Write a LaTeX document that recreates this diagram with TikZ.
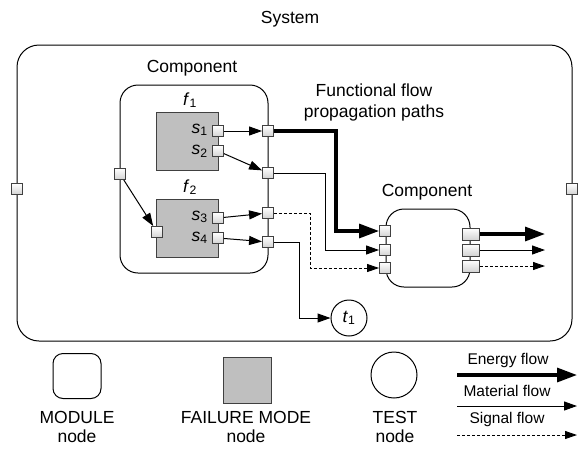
\documentclass[tikz,border=0pt]{standalone}
\usepackage{fontspec}
\setmainfont{Liberation Sans}
\usetikzlibrary{arrows.meta}

\begin{document}
\begin{tikzpicture}
[x=1pt, y=-1pt, font=\fontsize{17.5}{21}\selectfont,
modulenode/.style={rectangle, rounded corners=18pt, draw=black, line width=1pt},
failnode/.style={rectangle, draw=black!75, line width=1pt, fill=gray!50, minimum width=62pt, minimum height=58pt},
portnode/.style={rectangle, draw=black!75, line width=0.9pt, top color=white, bottom color=gray!35, inner sep=0pt, minimum size=11pt},
widenode/.style={portnode, minimum width=17pt, minimum height=12pt},
testnode/.style={circle, draw=black, line width=1pt, minimum size=36pt, inner sep=0pt},
connect/.style={-{Triangle[length=13pt,width=9pt]}, line width=1pt},
energy/.style={-{Triangle[length=20pt,width=14pt]}, line width=3.2pt},
material/.style={-{Triangle[length=13pt,width=9pt]}, line width=1pt},
signal/.style={-{Triangle[length=12pt,width=8pt]}, line width=0.9pt, dash pattern=on 3pt off 2pt},
legendtext/.style={font=\fontsize{15.5}{18}\selectfont}]
\useasboundingbox (0,0) rectangle (579,448);
% system and components
\node (systemlabel) at (290,19) {System};
\node[modulenode, rounded corners=22pt, minimum width=555pt, minimum height=296pt] (system) at (294.5,193) {};
\node (compAlabel) at (192,68) {Component};
\node[modulenode, minimum width=148pt, minimum height=188pt] (compA) at (194,179) {};
\node (compBlabel) at (427,192) {Component};
\node[modulenode, minimum width=84pt, minimum height=78pt] (compB) at (428,248) {};
\node (flowlabel) at (374,102) [align=center] {Functional flow\\propagation paths};
% failure modes
\node (f1) at (190,100) {\textit{f}\textsubscript{1}};
\node[failnode] (fail1) at (187,141) {};
\node (f2) at (190,187) {\textit{f}\textsubscript{2}};
\node[failnode] (fail2) at (187.5,228.5) {};
\node[anchor=east, inner sep=2pt] (s1) at (210,130) {\textit{s}\textsubscript{1}};
\node[anchor=east, inner sep=2pt] (s2) at (210,151) {\textit{s}\textsubscript{2}};
\node[anchor=east, inner sep=2pt] (s3) at (210,217) {\textit{s}\textsubscript{3}};
\node[anchor=east, inner sep=2pt] (s4) at (210,238) {\textit{s}\textsubscript{4}};
% ports
\node[portnode]	(sysin) at (17,189) {};
\node[portnode]	(sysout) at (572,189) {};
\node[portnode]	(compAin) at (120,174) {};
\node[portnode]	(fail2in) at (157,232) {};
\node[portnode]	(s1port) at (218,131) {};
\node[portnode]	(s2port) at (218,151) {};
\node[portnode]	(s3port) at (218,218) {};
\node[portnode]	(s4port) at (218,238) {};
\node[portnode]	(out1) at (268,131) {};
\node[portnode]	(out2) at (268,173) {};
\node[portnode]	(out3) at (268,213) {};
\node[portnode]	(out4) at (268,242) {};
\node[portnode]	(compBin1) at (385,231) {};
\node[portnode]	(compBin2) at (385,250) {};
\node[portnode]	(compBin3) at (385,268) {};
\node[widenode]	(compBout1) at (471,234) {};
\node[widenode]	(compBout2) at (471,250) {};
\node[widenode]	(compBout3) at (471,266) {};
\node[testnode]	(t1) at (349,318) {\textit{t}\textsubscript{1}};
\coordinate (end1) at (545,234);
\coordinate (end2) at (545,250);
\coordinate (end3) at (545,266);
% connections
\draw[connect] (compAin) -- (fail2in);
\draw[connect] (s1port) -- (out1);
\draw[connect] (s2port) -- (out2);
\draw[connect] (s3port) -- (out3);
\draw[connect] (s4port) -- (out4);
\draw[energy] (out1) -- ++(68,0) |- (compBin1);
\draw[material] (out2) -- ++(57,0) |- (compBin2);
\draw[signal] (out3) -- ++(42,0) |- (compBin3);
\draw[connect] (out4) -- ++(31,0) |- (t1);
\draw[energy] (compBout1) -- (end1);
\draw[material] (compBout2) -- (end2);
\draw[signal] (compBout3) -- (end3);
% legend
\node[modulenode, rounded corners=10pt, minimum width=48pt, minimum height=45pt] (legmodule) at (77,376) {};
\node[align=center, font=\fontsize{17.5}{19}\selectfont] (legmoduletext) at (77,427) {MODULE\\node};
\node[failnode, minimum width=48pt, minimum height=46pt] (legfail) at (247,380) {};
\node[align=center, font=\fontsize{17.5}{19}\selectfont] (legfailtext) at (246,427) {FAILURE MODE\\node};
\node[testnode, minimum size=46pt] (legtest) at (394,375) {};
\node[align=center, font=\fontsize{17.5}{19}\selectfont] (legtesttext) at (395,427) {TEST\\node};
\coordinate (energyA) at (457,375);
\coordinate (energyB) at (577,375);
\coordinate (materialA) at (457,406);
\coordinate (materialB) at (577,406);
\coordinate (signalA) at (457,435);
\coordinate (signalB) at (577,435);
\node[legendtext] (energytext) at (508,360) {Energy flow};
\node[legendtext] (materialtext) at (507,391) {Material flow};
\node[legendtext] (signaltext) at (507,419) {Signal flow};
\draw[energy] (energyA) -- (energyB);
\draw[material] (materialA) -- (materialB);
\draw[signal] (signalA) -- (signalB);
\end{tikzpicture}
\end{document}
